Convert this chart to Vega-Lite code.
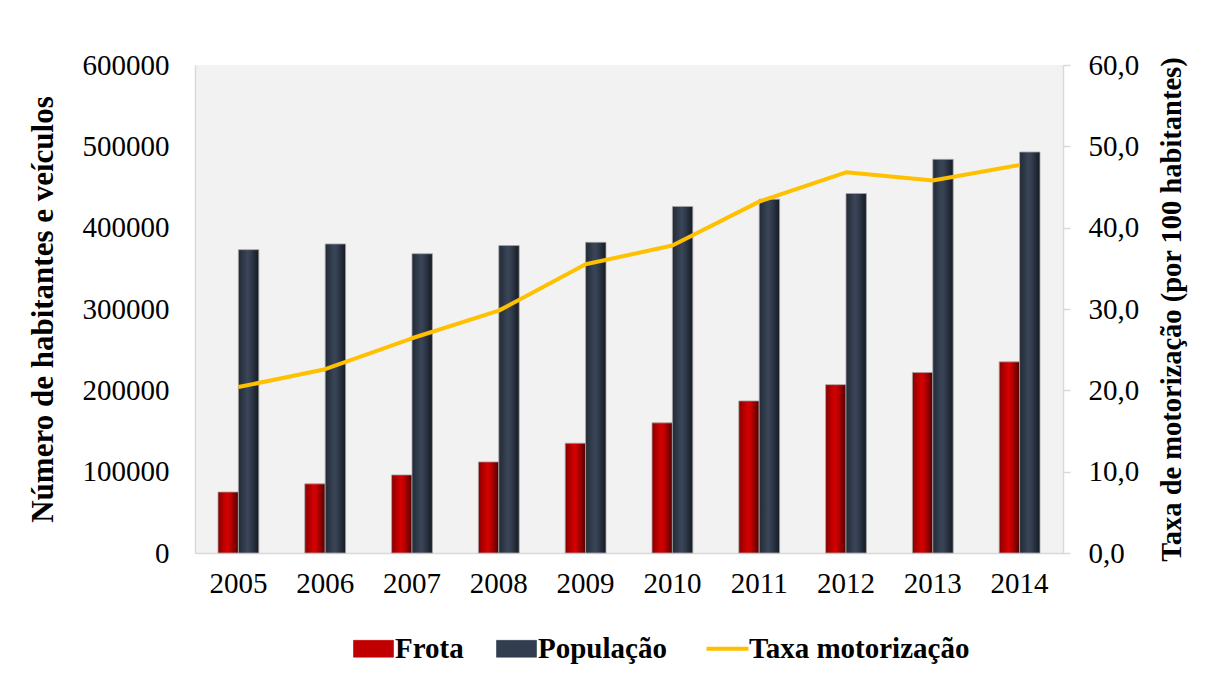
{
  "$schema": "https://vega.github.io/schema/vega-lite/v6.json",
  "width": 868,
  "height": 488,
  "autosize": "none",
  "padding": {"left": 195, "top": 65, "right": 143, "bottom": 122},
  "background": "white",
  "config": {
    "view": {"fill": "#f2f2f2", "stroke": null},
    "font": "Liberation Serif",
    "axis": {
      "labelFont": "Liberation Serif",
      "labelFontSize": 29,
      "labelColor": "#000000",
      "titleFont": "Liberation Serif",
      "titleFontSize": 31,
      "titleFontWeight": "bold",
      "titleColor": "#000000",
      "domainColor": "#d9d9d9",
      "domainWidth": 1.5,
      "grid": false
    },
    "legend": {
      "labelFont": "Liberation Serif",
      "labelFontSize": 29,
      "labelFontWeight": "bold",
      "labelColor": "#000000",
      "labelLimit": 500
    }
  },
  "data": {
    "values": [
      {"ano": "2005", "Frota": 75000, "População": 373000, "taxa": 20.4},
      {"ano": "2006", "Frota": 85000, "População": 380000, "taxa": 22.6},
      {"ano": "2007", "Frota": 96000, "População": 368000, "taxa": 26.4},
      {"ano": "2008", "Frota": 112000, "População": 378000, "taxa": 29.8},
      {"ano": "2009", "Frota": 135000, "População": 382000, "taxa": 35.5},
      {"ano": "2010", "Frota": 160000, "População": 426000, "taxa": 37.8},
      {"ano": "2011", "Frota": 187000, "População": 435000, "taxa": 43.2},
      {"ano": "2012", "Frota": 207000, "População": 442000, "taxa": 46.8},
      {"ano": "2013", "Frota": 222000, "População": 484000, "taxa": 45.8},
      {"ano": "2014", "Frota": 235000, "População": 493000, "taxa": 47.7}
    ]
  },
  "encoding": {
    "x": {
      "field": "ano",
      "type": "ordinal",
      "scale": {"paddingInner": 0.53, "paddingOuter": 0.265},
      "axis": {"title": null, "labelAngle": 0, "ticks": false, "labelPadding": 16}
    }
  },
  "layer": [
    {
      "transform": [{"fold": ["Frota", "População"], "as": ["serie", "valor"]}],
      "mark": {"type": "bar", "stroke": "#a6a6a6", "strokeWidth": 0.8},
      "encoding": {
        "xOffset": {"field": "serie", "type": "nominal", "scale": {"paddingInner": 0, "paddingOuter": 0}},
        "y": {
          "field": "valor",
          "type": "quantitative",
          "scale": {"domain": [0, 600000], "nice": false},
          "axis": {
            "title": "Número de habitantes e veículos",
            "values": [0, 100000, 200000, 300000, 400000, 500000, 600000],
            "format": "d",
            "ticks": false,
            "labelPadding": 26,
            "titlePadding": 23
          }
        },
        "color": {
          "condition": {
            "test": "datum.serie === 'Frota'",
            "value": {"gradient": "linear", "x1": 0, "y1": 0, "x2": 1, "y2": 0, "stops": [
              {"offset": 0, "color": "#8a0000"}, {"offset": 0.45, "color": "#d60000"}, {"offset": 0.6, "color": "#c00000"}, {"offset": 1, "color": "#500000"}]}
          },
          "value": {"gradient": "linear", "x1": 0, "y1": 0, "x2": 1, "y2": 0, "stops": [
            {"offset": 0, "color": "#222a36"}, {"offset": 0.45, "color": "#3a4658"}, {"offset": 0.6, "color": "#323d4e"}, {"offset": 1, "color": "#141a22"}]}
        }
      }
    },
    {
      "mark": {"type": "line", "strokeWidth": 4, "strokeJoin": "round"},
      "encoding": {
        "y": {
          "field": "taxa",
          "type": "quantitative",
          "scale": {"domain": [0, 60], "nice": false},
          "axis": {
            "orient": "right",
            "title": "Taxa de motorização (por 100 habitantes)",
            "titleFontSize": 28.5,
            "values": [0, 10, 20, 30, 40, 50, 60],
            "labelExpr": "replace(format(datum.value, '.1f'), '.', ',')",
            "ticks": true,
            "tickSize": 7,
            "tickColor": "#d9d9d9",
            "tickWidth": 1.5,
            "labelPadding": 18,
            "titleAngle": 270,
            "titleBaseline": "top",
            "titlePadding": 19
          }
        },
        "color": {
          "datum": "Taxa motorização",
          "type": "nominal",
          "scale": {
            "domain": ["Frota", "População", "Taxa motorização"],
            "range": ["#c00000", "#323e4f", "#ffc000"]
          },
          "legend": {
            "title": null,
            "orient": "none",
            "legendX": 164,
            "legendY": 569,
            "direction": "horizontal",
            "labelFont": "Liberation Serif",
            "labelFontSize": 29,
            "labelFontWeight": "bold",
            "labelColor": "#000000",
            "labelLimit": 500,
            "labelOffset": 7,
            "columnPadding": 31,
            "symbolSize": 1600,
            "encode": {
              "symbols": {
                "update": {
                  "shape": {"signal": "datum.value === 'Taxa motorização' ? 'M-1.05,0H1.05' : 'M-1,-0.42H1V0.42H-1Z'"},
                  "fill": {"signal": "datum.value === 'Taxa motorização' ? null : scale('color', datum.value)"},
                  "stroke": {"signal": "datum.value === 'Taxa motorização' ? '#ffc000' : '#7f7f7f'"},
                  "strokeWidth": {"signal": "datum.value === 'Taxa motorização' ? 4 : 0.6"},
                  "opacity": {"value": 1}
                }
              },
              "labels": {
                "update": {
                  "font": {"value": "Liberation Serif"},
                  "fontWeight": {"value": "bold"},
                  "fontSize": {"value": 29}
                }
              }
            }
          }
        }
      }
    }
  ],
  "resolve": {"scale": {"y": "independent"}}
}
